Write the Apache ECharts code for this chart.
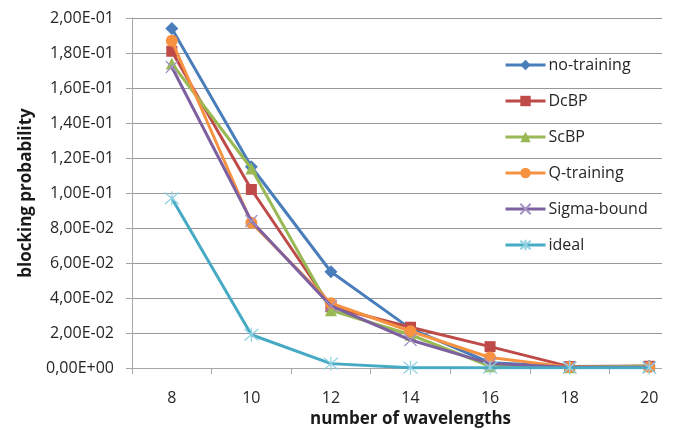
<!DOCTYPE html>
<html>
<head>
<meta charset="utf-8">
<script src="https://cdn.jsdelivr.net/npm/echarts@6/dist/echarts.min.js"></script>
<style>
html,body{margin:0;padding:0;background:#fff;}
#main{width:683px;height:430px;}
</style>
</head>
<body>
<div id="main"></div>
<script>
var categories = ['8', '10', '12', '14', '16', '18', '20'];
var seriesNames = ['no-training', 'DcBP', 'ScBP', 'Q-training', 'Sigma-bound', 'ideal'];
var noTraining = [0.194, 0.115, 0.055, 0.0225, 0.003, 0.0008, 0.001];
var dcbp       = [0.181, 0.102, 0.035, 0.0233, 0.0122, 0.0008, 0.001];
var scbp       = [0.174, 0.114, 0.033, 0.019, 0.001, 0.0005, 0.0012];
var qTraining  = [0.187, 0.083, 0.037, 0.021, 0.006, 0.0005, 0.0005];
var sigmaBound = [0.172, 0.084, 0.0355, 0.016, 0.0025, 0.0005, 0.0005];
var ideal      = [0.097, 0.019, 0.0025, 0.0002, 0.0002, 0.0002, 0.0002];
var yTickLabels = ['0,00E+00','2,00E-02','4,00E-02','6,00E-02','8,00E-02','1,00E-01','1,20E-01','1,40E-01','1,60E-01','1,80E-01','2,00E-01'];

var colors = ['#4a7ebb', '#be4b48', '#98b954', '#f69240', '#7d60a0', '#46aac5'];
var xPath = 'path://M0,0 L10,10 M10,0 L0,10';
var starPath = 'path://M0,0 L10,10 M10,0 L0,10 M5,-1 L5,11';

var dataArr = [noTraining, dcbp, scbp, qTraining, sigmaBound, ideal];
var symbols = ['diamond', 'rect', 'triangle', 'circle', xPath, starPath];
var sizes = [13, 11, 12, 12, 12, 14];

var font = '"Open Sans", "Liberation Sans", sans-serif';

var series = seriesNames.map(function (name, i) {
  var isStroke = i >= 4;
  return {
    name: name,
    type: 'line',
    data: dataArr[i],
    symbol: symbols[i],
    symbolSize: sizes[i],
    showSymbol: true,
    lineStyle: { color: colors[i], width: 3 },
    itemStyle: isStroke
      ? { color: 'rgba(0,0,0,0)', borderColor: i === 4 ? '#a593c4' : '#8fd0e2', borderWidth: 1.2 }
      : { color: colors[i], borderWidth: 0 },
    z: 2 + i,
    animation: false
  };
});

var chart = echarts.init(document.getElementById('main'), null, { renderer: 'canvas' });
chart.setOption({
  animation: false,
  backgroundColor: '#fff',
  color: colors,
  grid: { left: 132, right: -6, top: 18, bottom: 62, containLabel: false, outerBoundsMode: 'none' },
  legend: {
    orient: 'vertical',
    left: 499,
    top: 52,
    itemWidth: 40,
    itemHeight: 13,
    itemGap: 20,
    textStyle: { fontFamily: font, fontSize: 16, color: '#262626', padding: [0, 0, 0, -2] },
    lineStyle: { width: 3 },
    data: seriesNames
  },
  xAxis: {
    type: 'category',
    data: categories,
    boundaryGap: true,
    name: 'number of wavelengths',
    nameLocation: 'middle',
    nameGap: 42,
    nameTextStyle: { fontFamily: font, fontSize: 17, fontWeight: 'bold', color: '#1a1a1a' },
    axisLine: { show: true, lineStyle: { color: '#a6a6a6', width: 1 } },
    axisTick: { show: true, length: 6, lineStyle: { color: '#a6a6a6' } },
    axisLabel: { fontFamily: font, fontSize: 16, color: '#262626', margin: 22 },
    splitLine: { show: false }
  },
  yAxis: {
    type: 'value',
    min: 0,
    max: 0.2,
    interval: 0.02,
    name: 'blocking probability',
    nameLocation: 'middle',
    nameGap: 97,
    nameRotate: 90,
    nameTextStyle: { fontFamily: font, fontSize: 17, fontWeight: 'bold', color: '#1a1a1a' },
    axisLine: { show: true, lineStyle: { color: '#a6a6a6', width: 1 } },
    axisTick: { show: true, length: 6, lineStyle: { color: '#a6a6a6' } },
    axisLabel: {
      fontFamily: font, fontSize: 16, color: '#262626', margin: 18,
      formatter: function (v) { return yTickLabels[Math.round(v / 0.02)]; }
    },
    splitLine: { show: true, lineStyle: { color: '#989898', width: 1 } }
  },
  graphic: [{
    type: 'rect',
    left: 662,
    top: 8,
    shape: { width: 40, height: 364 },
    style: { fill: '#ffffff' },
    z: 100,
    silent: true
  }],
  series: series
});
</script>
</body>
</html>
